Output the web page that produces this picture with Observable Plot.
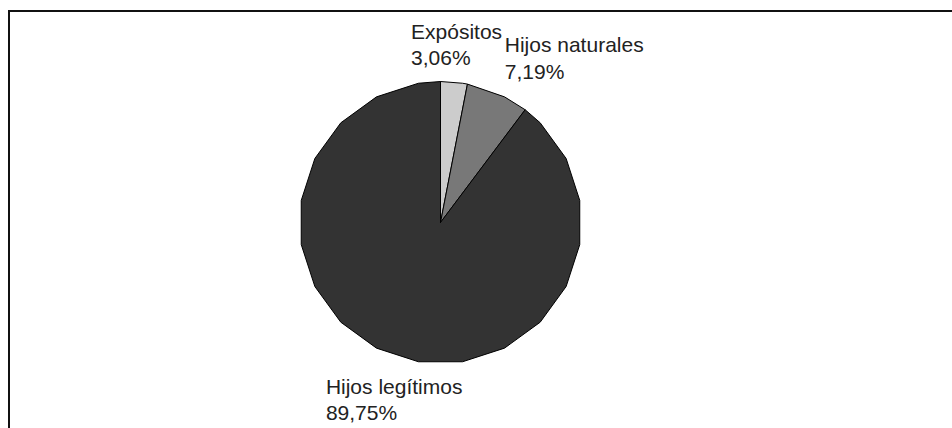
<!DOCTYPE html>
<html>
<head>
<meta charset="utf-8">
<script src="https://cdn.jsdelivr.net/npm/d3@7"></script>
<script src="https://cdn.jsdelivr.net/npm/@observablehq/plot@0.6"></script>
<style>
  html, body { margin: 0; padding: 0; background: #fff; }
</style>
</head>
<body>
<div id="chart"></div>
<script>
// Data
const categories = ["Expósitos", "Hijos naturales", "Hijos legítimos"];
const values = [3.06, 7.19, 89.75];
const valueLabels = ["3,06%", "7,19%", "89,75%"];
const colors = ["#cccccc", "#787878", "#333333"];

// Label offsets (pixels) relative to the slice's outer mid-point
const labelDx = [-43, 7, -70];
const labelDy = [-62, -60, 19];

// Pie layout (unit circle coordinates), polygonised like the original
const arcs = d3.pie().sort(null).value(d => d.value)(
  categories.map((c, i) => ({category: c, value: values[i], label: valueLabels[i]}))
);
const step = Math.PI / 10;           // 18°
const offset = Math.PI / 20;         // 9°
const pt = a => ({x: Math.sin(a), y: Math.cos(a)});
const polys = [];
arcs.forEach(a => {
  const cat = a.data.category;
  const pts = [{x: 0, y: 0}, pt(a.startAngle)];
  let k = Math.ceil((a.startAngle - offset) / step + 1e-9);
  for (let ang = offset + k * step; ang < a.endAngle - 1e-9; ang += step) pts.push(pt(ang));
  pts.push(pt(a.endAngle), {x: 0, y: 0});
  pts.forEach(p => polys.push({...p, category: cat}));
});
const labels = arcs.map((a, i) => {
  const m = (a.startAngle + a.endAngle) / 2;
  return {...pt(m), text: a.data.category + "\n" + a.data.label, i};
});

const plot = Plot.plot({
  width: 952,
  height: 428,
  marginLeft: 8.5,
  marginTop: 10.5,
  marginRight: 0,
  marginBottom: 0,
  x: {domain: [-1, 1], range: [299, 581], axis: null},
  y: {domain: [-1, 1], range: [363, 81], axis: null},
  color: {domain: categories, range: colors},
  style: {background: "#fff"},
  marks: [
    Plot.frame({anchor: "left", stroke: "#111", strokeWidth: 2}),
    Plot.frame({anchor: "top", stroke: "#111", strokeWidth: 2}),
    Plot.line(polys, {x: "x", y: "y", z: "category", fill: "category", stroke: "#000", strokeWidth: 1, curve: "linear"}),
    ...labels.map((l, i) => Plot.text([l], {
      x: "x", y: "y", text: "text",
      dx: labelDx[i], dy: labelDy[i],
      textAnchor: "start", lineAnchor: "top", lineHeight: 1.25,
      fontFamily: "Liberation Sans, Arial, sans-serif", fontSize: 21, fill: "#222"
    }))
  ]
});
document.getElementById("chart").appendChild(plot);
</script>
</body>
</html>
